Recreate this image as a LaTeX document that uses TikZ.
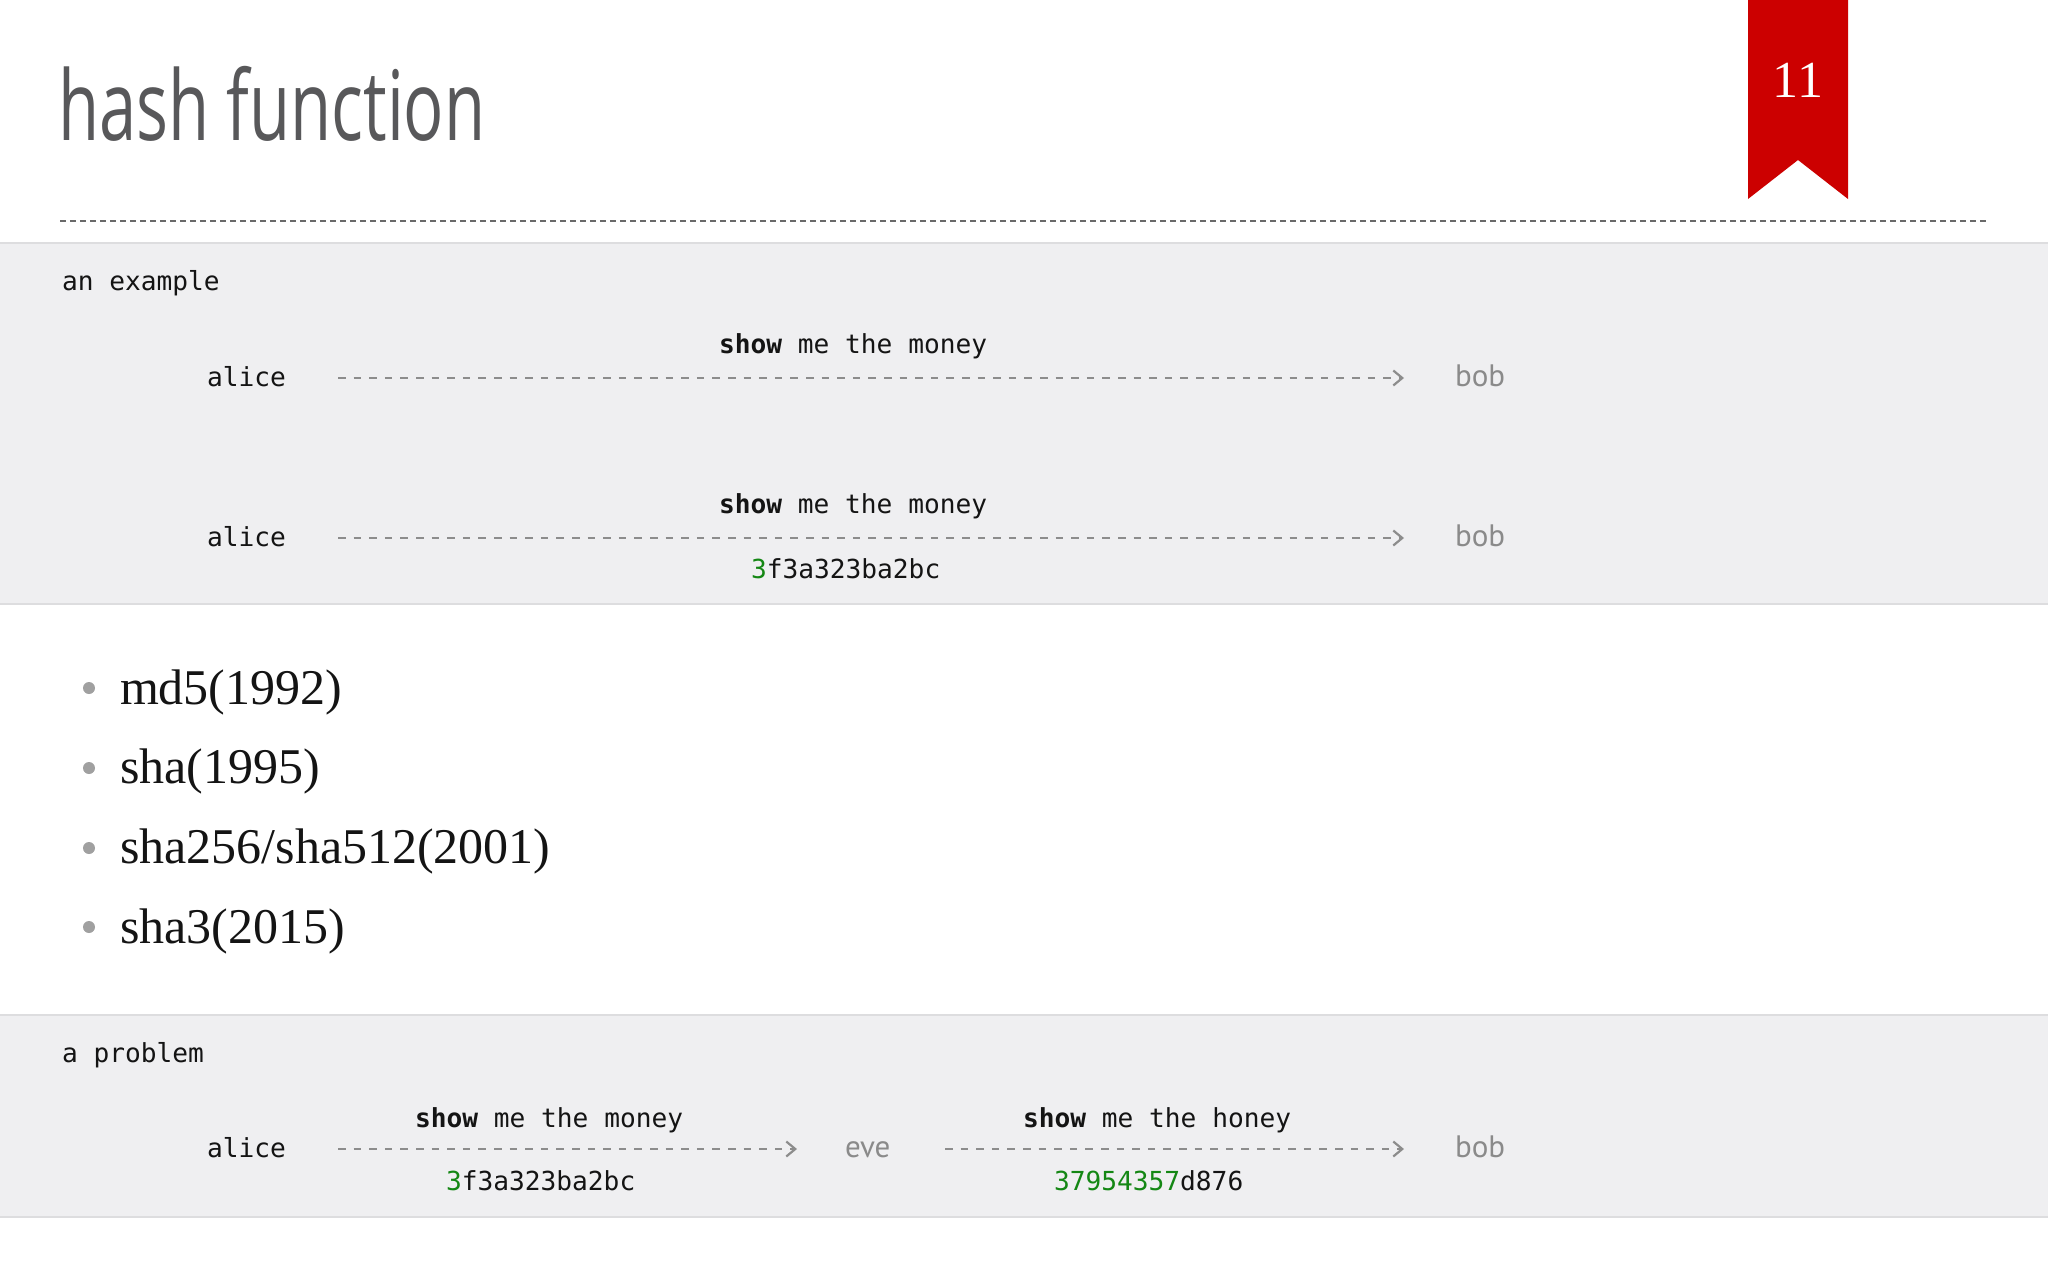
\documentclass[tikz,border=0pt]{standalone}
\usepackage{fontspec}
\setmonofont{DejaVu Sans Mono}
\newfontfamily\titlefont[FakeStretch=0.69]{Open Sans}
\newfontfamily\numfont{Liberation Serif}
\newfontfamily\listfont{Liberation Serif}
\newfontfamily\namefont{PT Sans}
\usetikzlibrary{arrows.meta}
\definecolor{boxbg}{RGB}{239,239,241}
\definecolor{boxline}{RGB}{221,221,223}
\definecolor{titlegray}{RGB}{88,88,90}
\definecolor{rulegray}{RGB}{105,105,105}
\definecolor{ribbonred}{RGB}{204,0,0}
\definecolor{arrowgray}{RGB}{140,140,140}
\definecolor{namegray}{RGB}{138,138,138}
\definecolor{hashgreen}{RGB}{20,135,20}
\definecolor{dotgray}{RGB}{160,160,160}
\definecolor{inkblack}{RGB}{20,20,20}
\begin{document}
\begin{tikzpicture}[x=1pt,y=-1pt,
  txt/.style={anchor=base west, inner sep=0pt, outer sep=0pt},
  mono/.style={txt, font=\ttfamily\fontsize{26.2}{30}\selectfont, text=inkblack},
  who/.style={txt, font=\namefont\fontsize{31}{35}\selectfont, text=namegray},
  flow/.style={draw=arrowgray, line width=2.2pt, dash pattern=on 7.5pt off 8.1pt,
    -{Straight Barb[length=9pt,width=15pt,line width=2.2pt]}},
  item/.style={txt, font=\listfont\fontsize{50}{56}\selectfont, text=inkblack},
  bulletdot/.style={circle, fill=dotgray, inner sep=0pt, minimum size=12pt},
  band/.style={fill=boxbg},
  bandline/.style={draw=boxline, line width=2.5pt}]
\useasboundingbox (0,0) rectangle (2048,1280);
\fill[white] (0,0) rectangle (2048,1280);

% title and rule
\node[txt, font=\titlefont\fontsize{97}{100}\selectfont, text=titlegray] (title) at (58,140) {hash function};
\draw[rulegray, line width=2pt, dash pattern=on 6pt off 4pt] (60,221) -- (1988,221);

% ribbon
\fill[ribbonred] (1748,0) -- (1848,0) -- (1848,199) -- (1798,160) -- (1748,199) -- cycle;
\node[anchor=base, inner sep=0pt, font=\numfont\fontsize{52}{56}\selectfont, text=white] (pagenum) at (1798,97) {11};

% first band
\fill[band] (0,243) rectangle (2048,604);
\draw[bandline] (0,243) -- (2048,243);
\draw[bandline] (0,604) -- (2048,604);
\node[mono] (ex) at (62,290) {an example};

\node[mono] (alice1) at (207,386) {alice};
\node[who] (bob1) at (1455,386) {bob};
\node[mono] (msg1) at (719,353) {\bfseries show\mdseries{} me the money};
\coordinate (s1) at ([xshift=131pt,yshift=8pt]alice1.base west);
\coordinate (e1) at ([xshift=-51pt]s1 -| bob1.base west);
\draw[flow] (s1) -- (e1);

\node[mono] (alice2) at (207,546) {alice};
\node[who] (bob2) at (1455,546) {bob};
\node[mono] (msg2) at (719,513) {\bfseries show\mdseries{} me the money};
\node[mono] (hash2) at (751,578) {\textcolor{hashgreen}{3}f3a323ba2bc};
\coordinate (s2) at ([xshift=131pt,yshift=8pt]alice2.base west);
\coordinate (e2) at ([xshift=-51pt]s2 -| bob2.base west);
\draw[flow] (s2) -- (e2);

% list
\node[bulletdot] (d1) at (89,688) {};
\node[item] (i1) at (120,704) {md5(1992)};
\node[bulletdot] (d2) at (89,768) {};
\node[item] (i2) at (120,783) {sha(1995)};
\node[bulletdot] (d3) at (89,848) {};
\node[item] (i3) at (120,863) {sha256/sha512(2001)};
\node[bulletdot] (d4) at (89,927) {};
\node[item] (i4) at (120,943) {sha3(2015)};

% second band
\fill[band] (0,1015) rectangle (2048,1217);
\draw[bandline] (0,1015) -- (2048,1015);
\draw[bandline] (0,1217) -- (2048,1217);
\node[mono] (prob) at (62,1062) {a problem};

\node[mono] (alice3) at (207,1157) {alice};
\node[who] (eve) at (845,1157) {eve};
\node[who] (bob3) at (1455,1157) {bob};
\node[mono] (msg3) at (415,1127) {\bfseries show\mdseries{} me the money};
\node[mono] (hash3) at (446,1190) {\textcolor{hashgreen}{3}f3a323ba2bc};
\node[mono] (msg4) at (1023,1127) {\bfseries show\mdseries{} me the honey};
\node[mono] (hash4) at (1054,1190) {\textcolor{hashgreen}{37954357}d876};
\coordinate (s3) at ([xshift=131pt,yshift=8pt]alice3.base west);
\coordinate (e3) at ([xshift=-48pt]s3 -| eve.base west);
\draw[flow] (s3) -- (e3);
\coordinate (s4) at ([xshift=100pt,yshift=8pt]eve.base west);
\coordinate (e4) at ([xshift=-51pt]s4 -| bob3.base west);
\draw[flow] (s4) -- (e4);
\end{tikzpicture}
\end{document}
